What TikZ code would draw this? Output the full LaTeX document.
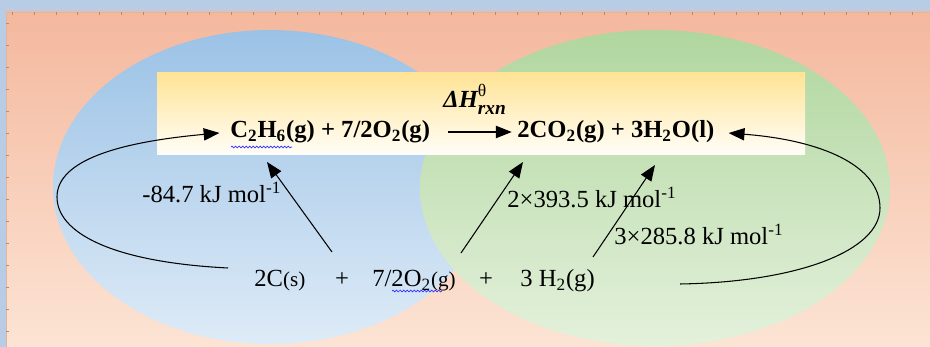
\documentclass[tikz,border=0pt]{standalone}
\usepackage{fontspec}
\setmainfont{Liberation Serif}
\usetikzlibrary{arrows.meta,decorations.pathmorphing}
\definecolor{framecolor}{RGB}{184,204,230}
\definecolor{salmontop}{RGB}{244,184,158}
\definecolor{salmonbot}{RGB}{252,228,212}
\definecolor{bluetop}{RGB}{155,194,230}
\definecolor{bluebot}{RGB}{222,235,247}
\definecolor{greentop}{RGB}{176,214,158}
\definecolor{greenbot}{RGB}{228,241,220}
\definecolor{bandtop}{RGB}{255,228,150}
\definecolor{tickcolor}{RGB}{196,136,96}

\begin{document}
\begin{tikzpicture}[x=0.02cm, y=-0.02cm,
  chem/.style={inner sep=0pt, font=\fontsize{14}{16}\selectfont},
  chemb/.style={inner sep=0pt, font=\fontsize{14}{16}\selectfont\bfseries},
  arr/.style={line width=0.6pt, -{Triangle[length=9pt, width=7pt]}},
  spell/.style={blue!80, line width=0.4pt, decorate,
                decoration={snake, amplitude=0.5pt, segment length=2pt}}]

  \useasboundingbox (0,0) rectangle (930,347);
  \fill[framecolor] (0,0) rectangle (930,347);
  \shade[top color=salmontop, bottom color=salmonbot] (6,12) rectangle (930,347);
  \draw[tickcolor!60, line width=0.4pt] (6,347) -- (6,12) -- (930,12);
  \foreach \i in {0,...,41} \draw[tickcolor, line width=0.4pt] (12+\i*21.95,12) -- ++(0,3);
  \foreach \i in {0,...,14} \draw[tickcolor, line width=0.4pt] (6,23+\i*22) -- ++(3,0);

  \shade[top color=bluetop, bottom color=bluebot] (270,187) ellipse [x radius=4.34cm, y radius=3.14cm];
  \shade[top color=greentop, bottom color=greenbot] (655,188) ellipse [x radius=4.7cm, y radius=3.16cm];
  \shade[top color=bandtop, bottom color=bandtop!6] (157,73) rectangle (805,155);

  \node[chemb, anchor=west] (reac) at (230,132) {C\textsubscript{2}H\textsubscript{6}(g) + 7/2O\textsubscript{2}(g)};
  \node[chemb, anchor=west] (prod) at (517,132) {2CO\textsubscript{2}(g) + 3H\textsubscript{2}O(l)};
  \node[chemb, anchor=base west] (dh) at (443,108) {\itshape ΔH\rlap{\raisebox{1.05ex}{\upshape\mdseries\fontsize{10}{10}\selectfont θ}}\raisebox{-0.55ex}{\fontsize{11}{11}\selectfont rxn}};
  \draw[arr, shorten <=10pt, shorten >=3pt] (reac.east) -- (prod.west);

  \node[chem, anchor=base west] (c)  at (254,287) {2C{\fontsize{12}{14}\selectfont(s)}};
  \node[chem, anchor=base]      (p1) at (342,287) {+};
  \node[chem, anchor=base west] (o2) at (372,287) {7/2O\textsubscript{2}{\fontsize{12}{14}\selectfont(g)}};
  \node[chem, anchor=base]      (p2) at (486,287) {+};
  \node[chem, anchor=base west] (h2) at (520,287) {3 H\textsubscript{2}(g)};

  \node[chem, anchor=base west] (dc)   at (142,203) {-84.7 kJ mol\textsuperscript{-1}};
  \node[chem, anchor=base west] (dco2) at (507,208) {2×393.5 kJ mol\textsuperscript{-1}};
  \node[chem, anchor=base west] (dh2o) at (614,245) {3×285.8 kJ mol\textsuperscript{-1}};

  \coordinate (cFrom)  at (332,252);
  \coordinate (cTo)    at (267,162);
  \coordinate (co2From) at (461,253);
  \coordinate (co2To)   at (523,162);
  \coordinate (h2From) at (593,257);
  \coordinate (h2To)   at (655,165);
  \coordinate (loopL)  at (228,268);
  \coordinate (loopR)  at (680,284);

  \draw[arr] (cFrom) -- (cTo);
  \draw[arr] (co2From) -- (co2To);
  \draw[arr] (h2From) -- (h2To);
  \draw[arr, shorten >=6pt] (loopL) .. controls (110,262) and (57,232) .. (57,197)
    .. controls (57,160) and (120,142) .. (reac.west);
  \draw[arr, shorten >=8pt] (loopR) .. controls (800,282) and (880,250) .. (880,208)
    .. controls (880,165) and (820,140) .. (prod.east);

  \draw[spell] (231,147) -- (292,147);
  \draw[spell] (392,291) -- (442,291);
\end{tikzpicture}
\end{document}
